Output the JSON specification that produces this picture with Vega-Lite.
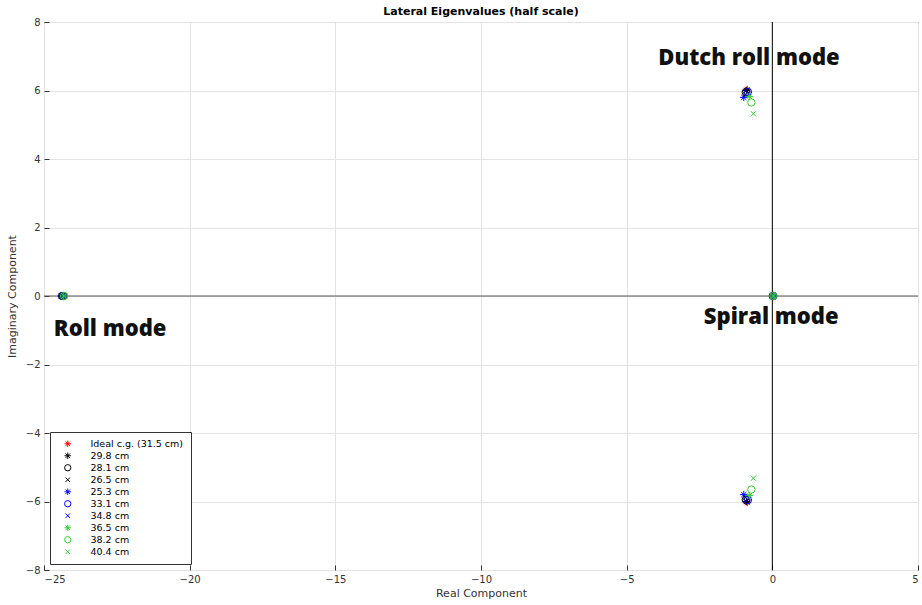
{
  "$schema": "https://vega.github.io/schema/vega-lite/v6.json",
  "width": 874,
  "height": 548,
  "autosize": {"type": "none"},
  "padding": {"left": 44, "top": 22, "right": 4, "bottom": 35},
  "background": "white",
  "title": {"text": "Lateral Eigenvalues (half scale)", "fontSize": 11, "fontWeight": "bold", "font": "DejaVu Sans", "color": "#000", "offset": 0},
  "config": {
    "view": {"stroke": "#333", "strokeWidth": 1},
    "axis": {"labelFont": "DejaVu Sans", "titleFont": "DejaVu Sans", "labelFontSize": 10, "titleFontSize": 11, "titleFontWeight": "normal", "labelColor": "#333", "titleColor": "#333", "gridColor": "#e3e3e3", "gridOpacity": 1, "domain": false, "tickColor": "#333", "tickSize": -5}
  },
  "datasets": {
    "pts": [
      {"series": "Ideal c.g. (31.5 cm)", "re": -0.86, "im": 6.03},
      {"series": "29.8 cm", "re": -0.89, "im": 6.0},
      {"series": "28.1 cm", "re": -0.91, "im": 5.95},
      {"series": "26.5 cm", "re": -0.93, "im": 5.88},
      {"series": "25.3 cm", "re": -0.98, "im": 5.8},
      {"series": "33.1 cm", "re": -0.84, "im": 5.96},
      {"series": "34.8 cm", "re": -0.82, "im": 5.9},
      {"series": "36.5 cm", "re": -0.79, "im": 5.83},
      {"series": "38.2 cm", "re": -0.72, "im": 5.65},
      {"series": "40.4 cm", "re": -0.65, "im": 5.32},
      {"series": "Ideal c.g. (31.5 cm)", "re": -0.86, "im": -6.03},
      {"series": "29.8 cm", "re": -0.89, "im": -6.0},
      {"series": "28.1 cm", "re": -0.91, "im": -5.95},
      {"series": "26.5 cm", "re": -0.93, "im": -5.88},
      {"series": "25.3 cm", "re": -0.98, "im": -5.8},
      {"series": "33.1 cm", "re": -0.84, "im": -5.96},
      {"series": "34.8 cm", "re": -0.82, "im": -5.9},
      {"series": "36.5 cm", "re": -0.79, "im": -5.83},
      {"series": "38.2 cm", "re": -0.72, "im": -5.65},
      {"series": "40.4 cm", "re": -0.65, "im": -5.32},
      {"series": "Ideal c.g. (31.5 cm)", "re": -24.35, "im": 0},
      {"series": "29.8 cm", "re": -24.37, "im": 0},
      {"series": "28.1 cm", "re": -24.38, "im": 0},
      {"series": "26.5 cm", "re": -24.39, "im": 0},
      {"series": "25.3 cm", "re": -24.4, "im": 0},
      {"series": "33.1 cm", "re": -24.34, "im": 0},
      {"series": "34.8 cm", "re": -24.33, "im": 0},
      {"series": "36.5 cm", "re": -24.32, "im": 0},
      {"series": "38.2 cm", "re": -24.31, "im": 0},
      {"series": "40.4 cm", "re": -24.3, "im": 0},
      {"series": "Ideal c.g. (31.5 cm)", "re": 0.02, "im": 0},
      {"series": "29.8 cm", "re": 0.02, "im": 0},
      {"series": "28.1 cm", "re": 0.02, "im": 0},
      {"series": "26.5 cm", "re": 0.02, "im": 0},
      {"series": "25.3 cm", "re": 0.02, "im": 0},
      {"series": "33.1 cm", "re": 0.03, "im": 0},
      {"series": "34.8 cm", "re": 0.03, "im": 0},
      {"series": "36.5 cm", "re": 0.03, "im": 0},
      {"series": "38.2 cm", "re": 0.04, "im": 0},
      {"series": "40.4 cm", "re": 0.04, "im": 0}
    ],
    "labels": [
      {"label": "Dutch roll mode", "re": -0.8, "im": 6.95},
      {"label": "Roll mode", "re": -22.73, "im": -0.96},
      {"label": "Spiral mode", "re": -0.04, "im": -0.61}
    ],
    "zeros": [{"v": 0}]
  },
  "layer": [
    {
      "data": {"name": "zeros"},
      "mark": {"type": "rule", "color": "#555", "strokeWidth": 1},
      "encoding": {"y": {"field": "v", "type": "quantitative", "scale": {"domain": [-8, 8]}}}
    },
    {
      "data": {"name": "zeros"},
      "mark": {"type": "rule", "color": "#000", "strokeWidth": 1},
      "encoding": {"x": {"field": "v", "type": "quantitative", "scale": {"domain": [-25, 5]}}}
    },
    {
      "data": {"name": "pts"},
      "mark": {"type": "point", "filled": false, "strokeWidth": 1, "size": 55, "opacity": 1},
      "encoding": {
        "x": {"field": "re", "type": "quantitative", "scale": {"domain": [-25, 5], "nice": false, "zero": false}, "axis": {"title": "Real Component", "values": [-25, -20, -15, -10, -5, 0, 5], "titlePadding": 3, "labelPadding": 9}},
        "y": {"field": "im", "type": "quantitative", "scale": {"domain": [-8, 8], "nice": false}, "axis": {"title": "Imaginary Component", "values": [-8, -6, -4, -2, 0, 2, 4, 6, 8], "titlePadding": 8, "labelPadding": 9}},
        "color": {"field": "series", "type": "nominal", "sort": null,
          "scale": {"domain": ["Ideal c.g. (31.5 cm)", "29.8 cm", "28.1 cm", "26.5 cm", "25.3 cm", "33.1 cm", "34.8 cm", "36.5 cm", "38.2 cm", "40.4 cm"],
            "range": ["#ff0000", "#000000", "#000000", "#000000", "#0000ff", "#0000ff", "#0000ff", "#33cc33", "#33cc33", "#33cc33"]},
          "legend": {"title": null, "orient": "bottom-left", "offset": 6, "strokeColor": "#333", "fillColor": "white", "padding": 7, "labelFont": "DejaVu Sans", "labelFontSize": 9.5, "labelColor": "#000", "rowPadding": 1, "symbolSize": 40, "symbolStrokeWidth": 1, "labelOffset": 18, "labelLimit": 200, "symbolOffset": 6}},
        "shape": {"field": "series", "type": "nominal", "sort": null,
          "scale": {"domain": ["Ideal c.g. (31.5 cm)", "29.8 cm", "28.1 cm", "26.5 cm", "25.3 cm", "33.1 cm", "34.8 cm", "36.5 cm", "38.2 cm", "40.4 cm"],
            "range": ["M-1,0L1,0M0,-1L0,1M-0.7,-0.7L0.7,0.7M-0.7,0.7L0.7,-0.7", "M-1,0L1,0M0,-1L0,1M-0.7,-0.7L0.7,0.7M-0.7,0.7L0.7,-0.7", "circle", "M-0.7,-0.7L0.7,0.7M-0.7,0.7L0.7,-0.7", "M-1,0L1,0M0,-1L0,1M-0.7,-0.7L0.7,0.7M-0.7,0.7L0.7,-0.7", "circle", "M-0.7,-0.7L0.7,0.7M-0.7,0.7L0.7,-0.7", "M-1,0L1,0M0,-1L0,1M-0.7,-0.7L0.7,0.7M-0.7,0.7L0.7,-0.7", "circle", "M-0.7,-0.7L0.7,0.7M-0.7,0.7L0.7,-0.7"]},
          "legend": {"title": null}}
      }
    },
    {
      "data": {"name": "labels"},
      "mark": {"type": "text", "font": "Open Sans", "fontWeight": 800, "fontSize": 22, "color": "#111", "align": "center", "baseline": "middle"},
      "encoding": {
        "x": {"field": "re", "type": "quantitative"},
        "y": {"field": "im", "type": "quantitative"},
        "text": {"field": "label"}
      }
    }
  ]
}
